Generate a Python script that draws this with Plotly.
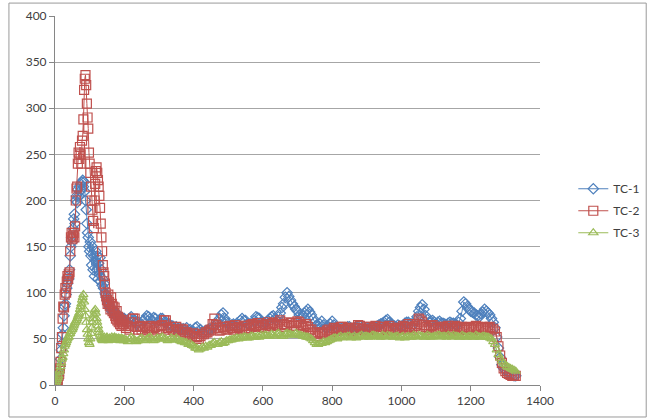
import plotly.graph_objects as go

# sample times in seconds: every 2 s during the early peak, then every 5 s
time_s = list(range(0, 200, 2)) + list(range(200, 1331, 5))

tc1 = [3, 5, 0, 2, 6, 10, 14, 20, 28, 38,
       45, 55, 62, 75, 85, 88, 98, 105, 110, 118,
       115, 125, 140, 150, 160, 155, 170, 180, 185, 175,
       200, 205, 198, 212, 205, 215, 210, 218, 212, 220,
       222, 215, 220, 210, 200, 190, 175, 165, 160, 150,
       145, 155, 140, 130, 150, 125, 140, 118, 135, 145,
       125, 140, 115, 132, 120, 138, 112, 125, 108, 115,
       105, 110, 100, 98, 95, 92, 90, 88, 86, 84,
       85, 82, 80, 82, 78, 78, 76, 77, 75, 76,
       74, 75, 73, 75, 72, 73, 71, 72, 70, 72,
       72, 70, 68, 72, 74, 70, 70, 66, 68, 64,
       66, 70, 72, 75, 74, 72, 70, 73, 72, 68,
       70, 72, 72, 68, 68, 65, 66, 64, 64, 62,
       63, 61, 62, 60, 61, 59, 62, 58, 60, 57,
       58, 62, 63, 58, 60, 56, 57, 59, 58, 61,
       60, 62, 63, 66, 68, 72, 76, 78, 72, 68,
       67, 64, 65, 66, 64, 67, 65, 70, 72, 70,
       70, 66, 66, 64, 65, 70, 74, 73, 72, 68,
       66, 67, 68, 70, 72, 74, 75, 72, 70, 74,
       78, 84, 88, 95, 100, 96, 92, 88, 85, 82,
       80, 76, 72, 75, 78, 80, 82, 79, 76, 72,
       68, 65, 64, 66, 69, 65, 62, 62, 63, 66,
       69, 65, 62, 61, 60, 62, 62, 61, 61, 63,
       63, 61, 60, 62, 62, 63, 61, 62, 63, 61,
       62, 61, 61, 62, 60, 62, 64, 65, 66, 67,
       68, 70, 71, 68, 66, 65, 64, 63, 65, 64,
       63, 65, 67, 68, 68, 66, 64, 66, 70, 74,
       80, 84, 87, 82, 75, 71, 68, 69, 70, 68,
       66, 68, 69, 67, 67, 66, 65, 67, 68, 67,
       67, 66, 65, 68, 72, 80, 90, 88, 85, 82,
       80, 79, 78, 76, 75, 74, 77, 79, 82, 80,
       78, 76, 72, 68, 62, 52, 40, 30, 22, 18,
       16, 14, 13, 12, 11, 10, 10]

tc2 = [5, 8, 2, 0, 5, 10, 12, 18, 25, 40,
       52, 72, 85, 84, 98, 105, 100, 112, 118, 115,
       120, 122, 145, 160, 165, 158, 162, 165, 160, 172,
       200, 213, 215, 240, 252, 245, 258, 250, 240, 265,
       270, 288, 320, 332, 336, 325, 305, 290, 278, 252,
       240, 230, 215, 200, 190, 178, 170, 200, 218, 232,
       236, 230, 222, 215, 205, 192, 175, 160, 145, 130,
       122, 118, 110, 100, 96, 92, 88, 98, 90, 86,
       82, 95, 88, 80, 85, 78, 84, 75, 72, 80,
       70, 74, 68, 72, 66, 70, 64, 68, 66, 70,
       66, 62, 64, 60, 68, 72, 72, 63, 60, 64,
       60, 63, 58, 62, 60, 64, 58, 62, 63, 60,
       61, 64, 65, 70, 70, 62, 60, 63, 60, 58,
       63, 60, 58, 61, 60, 57, 57, 54, 55, 53,
       56, 52, 52, 50, 53, 55, 55, 57, 57, 59,
       60, 66, 72, 65, 62, 59, 60, 63, 63, 60,
       61, 64, 62, 60, 65, 62, 63, 60, 61, 64,
       64, 61, 62, 65, 66, 63, 64, 67, 63, 65,
       65, 62, 66, 68, 64, 66, 67, 64, 65, 68,
       70, 66, 66, 63, 65, 68, 67, 64, 64, 67,
       69, 68, 65, 62, 64, 66, 63, 60, 60, 57,
       56, 53, 55, 57, 57, 55, 56, 59, 60, 57,
       58, 62, 61, 59, 60, 63, 63, 60, 60, 62,
       61, 58, 59, 62, 62, 65, 64, 61, 61, 59,
       60, 63, 63, 60, 62, 64, 60, 58, 61, 63,
       63, 60, 62, 64, 61, 59, 60, 62, 62, 60,
       61, 64, 63, 61, 66, 63, 62, 60, 64, 66,
       72, 70, 68, 65, 63, 60, 62, 64, 65, 62,
       62, 60, 61, 63, 63, 60, 62, 64, 61, 59,
       62, 64, 63, 60, 61, 63, 62, 60, 60, 63,
       62, 60, 61, 64, 63, 60, 62, 63, 61, 59,
       62, 63, 60, 61, 58, 52, 42, 32, 24, 18,
       15, 13, 12, 11, 10, 10, 10]

tc3 = [0, 2, 4, 6, 8, 10, 14, 16, 20, 24,
       28, 30, 34, 38, 42, 44, 46, 48, 50, 52,
       52, 55, 56, 58, 60, 60, 62, 64, 66, 68,
       68, 70, 72, 74, 76, 78, 82, 85, 88, 92,
       95, 98, 90, 82, 75, 68, 60, 55, 50, 46,
       44, 50, 56, 62, 68, 72, 76, 80, 82, 78,
       72, 68, 64, 60, 57, 54, 52, 50, 49, 48,
       50, 52, 50, 49, 51, 52, 50, 48, 50, 51,
       49, 50, 52, 50, 49, 51, 52, 50, 49, 51,
       50, 49, 51, 50, 48, 50, 51, 49, 50, 48,
       50, 49, 47, 50, 52, 50, 49, 47, 48, 50,
       51, 49, 48, 50, 51, 52, 50, 48, 49, 51,
       50, 51, 52, 50, 50, 48, 49, 51, 50, 49,
       51, 49, 48, 47, 47, 46, 46, 44, 45, 43,
       42, 40, 40, 38, 39, 41, 40, 42, 41, 43,
       43, 45, 46, 44, 44, 46, 47, 45, 46, 48,
       48, 49, 49, 50, 50, 51, 50, 51, 51, 52,
       52, 51, 51, 53, 53, 52, 52, 53, 52, 54,
       53, 54, 54, 53, 53, 55, 54, 53, 55, 56,
       54, 53, 53, 55, 56, 55, 55, 54, 54, 56,
       55, 54, 54, 53, 53, 52, 52, 51, 50, 48,
       46, 44, 44, 45, 45, 47, 46, 47, 48, 49,
       50, 51, 51, 50, 52, 53, 51, 52, 52, 53,
       53, 51, 52, 53, 51, 52, 53, 54, 52, 53,
       53, 52, 52, 54, 54, 53, 53, 52, 52, 54,
       53, 52, 54, 53, 53, 52, 52, 53, 53, 51,
       52, 53, 51, 52, 53, 52, 52, 54, 53, 52,
       54, 53, 53, 52, 52, 54, 53, 52, 52, 53,
       53, 54, 54, 52, 53, 53, 52, 54, 53, 52,
       54, 53, 53, 52, 52, 54, 53, 52, 52, 53,
       53, 52, 52, 54, 53, 52, 52, 53, 53, 52,
       52, 51, 50, 47, 44, 38, 33, 29, 26, 24,
       22, 20, 19, 18, 17, 16, 15]

series_names = ["TC-1", "TC-2", "TC-3"]
series_values = [tc1, tc2, tc3]
colors = ["#4F81BD", "#C0504D", "#9BBB59"]
symbols = ["diamond-open", "square-open", "triangle-up-open"]
sizes = [8, 9, 8]

fig = go.Figure()
for name, vals, col, sym, sz in zip(series_names, series_values, colors, symbols, sizes):
    fig.add_trace(go.Scatter(
        x=time_s, y=vals, name=name, legendgroup=name, mode="lines+markers",
        line=dict(color=col, width=1),
        marker=dict(symbol=sym, size=sz, color=col, line=dict(width=1.2, color=col)),
    ))

axis_font = dict(family="Lato, Open Sans, sans-serif", size=12, color="#404040")

fig.update_layout(
    width=650, height=419,
    margin=dict(l=55, r=110, t=16, b=34, autoexpand=False),
    paper_bgcolor="white", plot_bgcolor="white",
    font=axis_font,
    showlegend=True,
    legend=dict(xref="container", yref="container", x=0.882, y=0.497,
                xanchor="left", yanchor="middle",
                font=dict(family="Lato, Open Sans, sans-serif", size=12, color="#404040"),
                bgcolor="rgba(0,0,0,0)", tracegroupgap=3, itemwidth=30),
    xaxis=dict(range=[0, 1400], dtick=200, showgrid=False, zeroline=False, automargin=False,
               showline=True, linecolor="#868686", linewidth=1,
               ticks="outside", ticklen=5, tickcolor="#868686", tickfont=axis_font),
    yaxis=dict(range=[0, 400], dtick=50, showgrid=True, gridcolor="#A6A6A6", gridwidth=1,
               zeroline=False, automargin=False, showline=True, linecolor="#868686", linewidth=1,
               ticks="outside", ticklen=5, tickcolor="#868686", tickfont=axis_font),
    shapes=[dict(type="rect", xref="paper", yref="paper",
                 x0=-0.095, x1=1.219, y0=-0.0867, y1=1.035,
                 line=dict(color="#9A9A9A", width=1), fillcolor="rgba(0,0,0,0)", layer="below")],
)

fig.write_html(
    "out.html",
    config={"displayModeBar": False},
    post_script="document.body.style.margin='0';document.body.style.overflow='hidden';",
)
